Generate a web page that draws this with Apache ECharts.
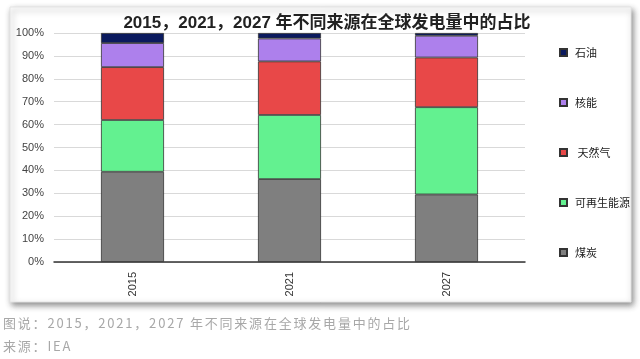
<!DOCTYPE html>
<html>
<head>
<meta charset="utf-8">
<script src="https://cdn.jsdelivr.net/npm/echarts@6/dist/echarts.min.js"></script>
<style>
html,body{margin:0;padding:0;background:#fff;}
#wrap{position:relative;width:640px;height:359px;overflow:hidden;}
#chart{position:absolute;left:0;top:0;width:640px;height:359px;}
.cap{position:absolute;left:3px;font-family:"Noto Sans CJK SC","Noto Sans",sans-serif;font-size:13px;color:#a8a8a8;letter-spacing:1.8px;white-space:nowrap;}
</style>
</head>
<body>
<div id="wrap">
<div id="chart"></div>
<div class="cap" style="top:313px;">图说：2015，2021，2027 年不同来源在全球发电量中的占比</div>
<div class="cap" style="top:336px;">来源：IEA</div>
</div>
<script>
var categories = ['2015', '2021', '2027'];
var coal = [39.4, 36.2, 29.5];
var renewables = [22.6, 28.0, 38.1];
var gas = [23.1, 23.4, 21.7];
var nuclear = [10.5, 10.0, 9.5];
var oil = [4.4, 2.4, 1.2];
var seriesNames = ['煤炭', '可再生能源', ' 天然气', '核能', '石油'];
var seriesColors = ['#7f7f7f', '#63f190', '#e84848', '#ad80ec', '#0b1a5e'];
var yTicks = [0, 10, 20, 30, 40, 50, 60, 70, 80, 90, 100];
var titleText = '2015，2021，2027 年不同来源在全球发电量中的占比';

var values = [coal, renewables, gas, nuclear, oil];
var chart = echarts.init(document.getElementById('chart'), null, {renderer: 'canvas'});
var font = '"Liberation Sans", Arial, "Noto Sans CJK SC", sans-serif';
var series = values.map(function (v, i) {
  return {
    name: seriesNames[i],
    type: 'bar',
    stack: 'total',
    barWidth: 63,
    data: v,
    itemStyle: {color: seriesColors[i], borderColor: '#333', borderWidth: 0.8},
    emphasis: {disabled: true}
  };
});
chart.setOption({
  animation: false,
  backgroundColor: '#fff',
  graphic: [{
    type: 'rect',
    z: -10,
    shape: {x: 10, y: 7, width: 621, height: 295},
    style: {fill: '#fff', stroke: '#e4e4e4', lineWidth: 1, shadowBlur: 6, shadowOffsetX: 2, shadowOffsetY: 3, shadowColor: 'rgba(0,0,0,0.45)'}
  }],
  title: {
    text: titleText,
    left: 322, textAlign: 'center',
    top: 10,
    textStyle: {fontSize: 17, fontWeight: 'bold', color: '#222', fontFamily: font}
  },
  grid: {left: 54, right: 115, top: 33, bottom: 97},
  legend: {
    orient: 'vertical',
    left: 554, top: 39,
    itemWidth: 7, itemHeight: 7,
    itemGap: 33,
    icon: 'rect',
    data: seriesNames.slice().reverse(),
    textStyle: {fontSize: 11, color: '#222', fontFamily: '"Noto Sans CJK SC", sans-serif', padding: [0, 0, 0, 3], lineHeight: 17},
    selectedMode: false
  },
  xAxis: {
    type: 'category',
    data: categories,
    axisLine: {show: true, lineStyle: {color: '#333', width: 1.5}},
    axisTick: {show: false},
    axisLabel: {rotate: 90, fontSize: 11, color: '#333', margin: 10, fontFamily: font}
  },
  yAxis: {
    type: 'value',
    min: yTicks[0], max: yTicks[yTicks.length - 1], interval: yTicks[1] - yTicks[0],
    axisLine: {show: false},
    axisTick: {show: false},
    splitLine: {lineStyle: {color: '#d9d9d9', width: 1}},
    axisLabel: {formatter: '{value}%', fontSize: 11, color: '#444', margin: 10, fontFamily: font}
  },
  series: series
});
</script>
</body>
</html>
